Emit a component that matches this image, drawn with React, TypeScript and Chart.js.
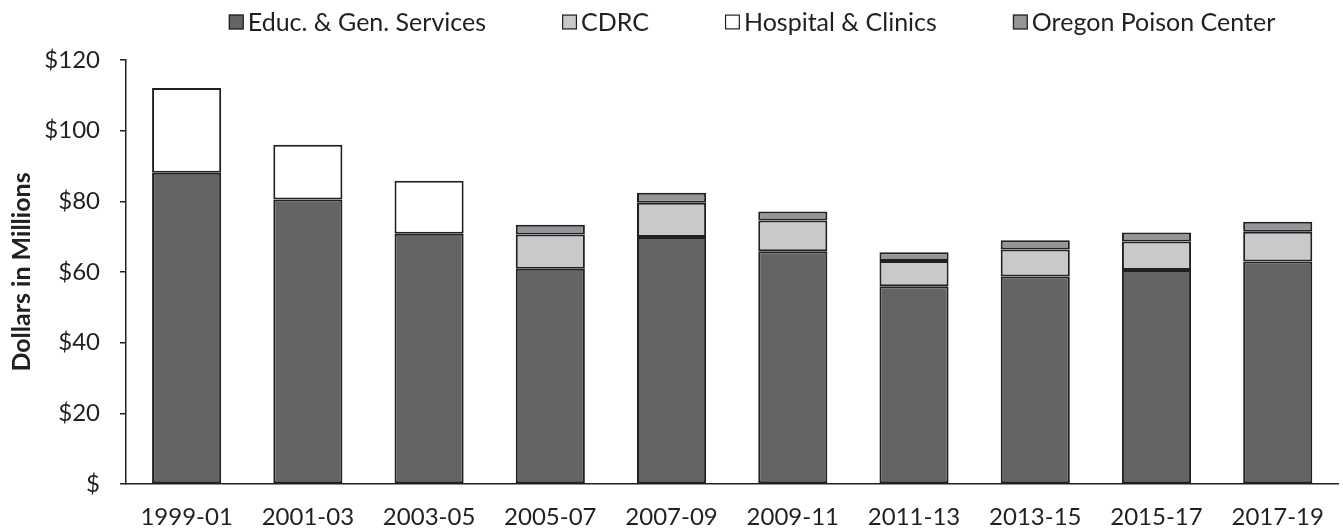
import React, { useEffect, useRef } from "react";
import { Chart, registerables } from "chart.js";

Chart.register(...registerables);

const categories = ["1999-01", "2001-03", "2003-05", "2005-07", "2007-09", "2009-11", "2011-13", "2013-15", "2015-17", "2017-19"];
const educGen = [88.1, 80.5, 70.8, 60.9, 69.9, 65.9, 56.0, 58.7, 60.6, 63.0];
const cdrc = [null, null, null, 9.7, 9.7, 8.7, 7.1, 7.7, 8.0, 8.4];
const hospital = [24.0, 15.5, 15.0, null, null, null, null, null, null, null];
const poison = [null, null, null, 2.8, 2.8, 2.5, 2.5, 2.6, 2.6, 2.8];
const yTicks = [0, 20, 40, 60, 80, 100, 120];

const FONT = "Lato, 'Open Sans', sans-serif";
const INK = "#231f20";

const legendPlugin = {
  id: "customLegend",
  afterDraw(chart: any) {
    const ctx = chart.ctx;
    const ds = chart.data.datasets;
    ctx.save();
    ctx.font = `25px ${FONT}`;
    const box = 15;
    const gapText = 4;
    const gapItem = 76;
    const widths = ds.map((d: any) => box + gapText + ctx.measureText(d.label).width);
    const total = widths.reduce((a: number, b: number) => a + b, 0) + gapItem * (ds.length - 1);
    let x = 752 - total / 2;
    const y = 22;
    ds.forEach((d: any, i: number) => {
      ctx.fillStyle = d.backgroundColor;
      ctx.fillRect(x, y - box / 2, box, box);
      ctx.strokeStyle = INK;
      ctx.lineWidth = 1.2;
      ctx.strokeRect(x + 0.6, y - box / 2 + 0.6, box - 1.2, box - 1.2);
      ctx.fillStyle = INK;
      ctx.textBaseline = "middle";
      ctx.textAlign = "left";
      ctx.fillText(d.label, x + box + gapText, y + 1);
      x += widths[i] + gapItem;
    });
    ctx.restore();
  },
};

export default function App() {
  const ref = useRef<HTMLCanvasElement>(null);
  useEffect(() => {
    document.body.style.margin = "0";
    const mk = (label: string, data: any[], color: string) => ({
      label,
      data,
      backgroundColor: color,
      borderColor: INK,
      borderWidth: 2,
      borderSkipped: false as any,
      categoryPercentage: 1,
      barPercentage: 0.57,
    });
    const chart = new Chart(ref.current!, {
      type: "bar",
      data: {
        labels: categories,
        datasets: [
          mk("Educ. & Gen. Services", educGen, "#636466"),
          mk("CDRC", cdrc, "#c8c9cb"),
          mk("Hospital & Clinics", hospital, "#ffffff"),
          mk("Oregon Poison Center", poison, "#939598"),
        ],
      },
      options: {
        animation: false,
        responsive: false,
        maintainAspectRatio: false,
        layout: { padding: { top: 60, right: 1, left: 0, bottom: 0 } },
        plugins: { legend: { display: false }, tooltip: { enabled: false } },
        scales: {
          x: {
            stacked: true,
            grid: { display: false, drawTicks: false },
            border: { display: true, color: INK, width: 1.5 },
            ticks: { color: INK, font: { family: FONT, size: 24 }, padding: 19, maxRotation: 0, autoSkip: false },
            afterFit: (scale: any) => {
              scale.height = 47;
            },
          },
          y: {
            stacked: true,
            min: 0,
            max: 120,
            afterBuildTicks: (axis: any) => {
              axis.ticks = yTicks.map((v) => ({ value: v }));
            },
            afterFit: (scale: any) => {
              scale.width = 126;
            },
            grid: { display: true, drawOnChartArea: false, color: INK, tickLength: 6, lineWidth: 1.5 },
            border: { display: true, color: INK, width: 1.5 },
            ticks: {
              color: INK,
              font: { family: FONT, size: 24 },
              padding: 20,
              callback: (v: any) => (v === 0 ? "$" : "$" + v),
            },
            title: {
              display: true,
              text: "Dollars in Millions",
              color: INK,
              font: { family: FONT, size: 25, weight: "bold" },
              padding: { top: 7, bottom: 0 },
            },
          },
        },
      },
      plugins: [legendPlugin],
    });
    return () => chart.destroy();
  }, []);
  return (
    <div style={{ position: "relative", width: 1343, height: 531 }}>
      <canvas ref={ref} width={1343} height={531} />
    </div>
  );
}
